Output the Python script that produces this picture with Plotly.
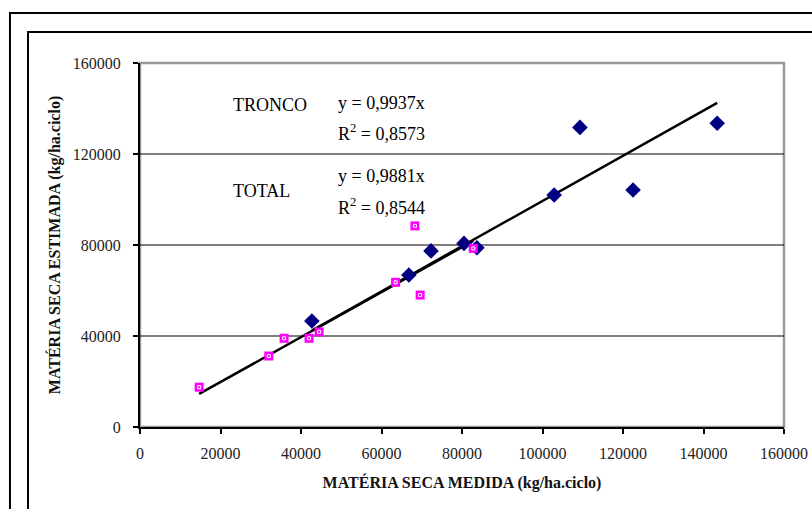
import plotly.graph_objects as go

# Data
tronco_x = [42700, 66800, 72300, 80500, 83700, 102900, 109300, 122500, 143400]
tronco_y = [46600, 66800, 77400, 80700, 78800, 102000, 131700, 104200, 133500]

total_x = [14700, 32000, 35800, 42000, 44500, 63500, 69600, 82800, 68300]
total_y = [17500, 31200, 39000, 39000, 41800, 63600, 58000, 78500, 88400]

tronco_slope = 0.9937
tronco_r2 = "0,8573"
total_slope = 0.9881
total_r2 = "0,8544"

tick_vals = [0, 20000, 40000, 60000, 80000, 100000, 120000, 140000, 160000]
y_tick_vals = [0, 40000, 80000, 120000, 160000]
y_grid_vals = [40000, 80000, 120000]

FONT = "Liberation Serif, Times New Roman, serif"

fig = go.Figure()

# trend lines (through origin)
tx = [min(tronco_x), max(tronco_x)]
fig.add_trace(go.Scatter(x=tx, y=[v * tronco_slope for v in tx], mode="lines",
                         line=dict(color="black", width=2.5), showlegend=False, hoverinfo="skip"))
ax = [min(total_x), max(total_x)]
fig.add_trace(go.Scatter(x=ax, y=[v * total_slope for v in ax], mode="lines",
                         line=dict(color="black", width=2.5), showlegend=False, hoverinfo="skip"))

fig.add_trace(go.Scatter(x=tronco_x, y=tronco_y, mode="markers", name="TRONCO",
                         marker=dict(symbol="diamond", size=12, color="#000080",
                                     line=dict(color="#000080", width=0)),
                         showlegend=False))
fig.add_trace(go.Scatter(x=total_x, y=total_y, mode="markers", name="TOTAL",
                         marker=dict(symbol="square", size=9, color="#FF00FF",
                                     line=dict(color="#FF00FF", width=0)),
                         showlegend=False))
fig.add_trace(go.Scatter(x=total_x, y=total_y, mode="markers", hoverinfo="skip",
                         marker=dict(symbol="square-open", size=3, color="white",
                                     line=dict(color="white", width=1)),
                         showlegend=False))

shapes = []
# plot area border (gray top/right)
shapes.append(dict(type="rect", xref="paper", yref="paper", x0=0, x1=1, y0=0, y1=1,
                   line=dict(color="#999999", width=2.5), layer="below"))
for g in y_grid_vals:
    shapes.append(dict(type="line", xref="paper", yref="y", x0=0, x1=1, y0=g, y1=g,
                       line=dict(color="black", width=1.2), layer="below"))
# chart frames
shapes.append(dict(type="rect", xref="paper", yref="paper", x0=-0.2019, x1=1.3,
                   y0=-0.4, y1=1.1374, line=dict(color="black", width=2)))
shapes.append(dict(type="rect", xref="paper", yref="paper", x0=-0.1739, x1=1.3,
                   y0=-0.4, y1=1.0852, line=dict(color="black", width=2)))

ann_font = dict(family=FONT, size=18, color="black")
annotations = []


def ann(text, px, py):
    annotations.append(dict(text=text, xref="paper", yref="paper",
                            x=(px - 140) / 644, y=(427 - py) / 364,
                            xanchor="left", yanchor="middle", showarrow=False, font=ann_font))


ann("TRONCO", 231, 105)
ann("y = " + str(tronco_slope).replace(".", ",") + "x", 336, 103)
ann("R<sup>2</sup> = " + tronco_r2, 336, 132)
ann("TOTAL", 231, 191)
ann("y = " + str(total_slope).replace(".", ",") + "x", 336, 176)
ann("R<sup>2</sup> = " + total_r2, 336, 206)

tick_font = dict(family=FONT, size=16, color="#222222")
title_font = dict(family=FONT, size=16, color="#111111")

fig.update_layout(
    width=812, height=509,
    margin=dict(l=140, r=28, t=63, b=82, autoexpand=False),
    paper_bgcolor="white", plot_bgcolor="white",
    font=dict(family=FONT, size=16, color="#222222"),
    shapes=shapes, annotations=annotations,
    xaxis=dict(range=[0, 160000], tickvals=tick_vals, ticktext=[str(v) for v in tick_vals],
               showgrid=False, zeroline=False, showline=True, linecolor="black", linewidth=2,
               ticks="outside", ticklen=5, tickwidth=1.5, tickcolor="black", automargin=False,
               ticklabelstandoff=6, tickfont=tick_font,
               title=dict(text="<b>MATÉRIA SECA MEDIDA (kg/ha.ciclo)</b>",
                          font=title_font, standoff=16)),
    yaxis=dict(range=[0, 160000], tickvals=y_tick_vals, ticktext=[str(v) for v in y_tick_vals],
               showgrid=False, zeroline=False, showline=True, linecolor="black", linewidth=2,
               ticks="outside", ticklen=5, tickwidth=1.5, tickcolor="black", automargin=False,
               ticklabelstandoff=9, tickfont=tick_font,
               title=dict(text="<b>MATÉRIA SECA ESTIMADA (kg/ha.ciclo)</b>",
                          font=title_font, standoff=8)),
)

fig.write_html("out.html", config={"displayModeBar": False},
               post_script="document.body.style.margin='0';")
